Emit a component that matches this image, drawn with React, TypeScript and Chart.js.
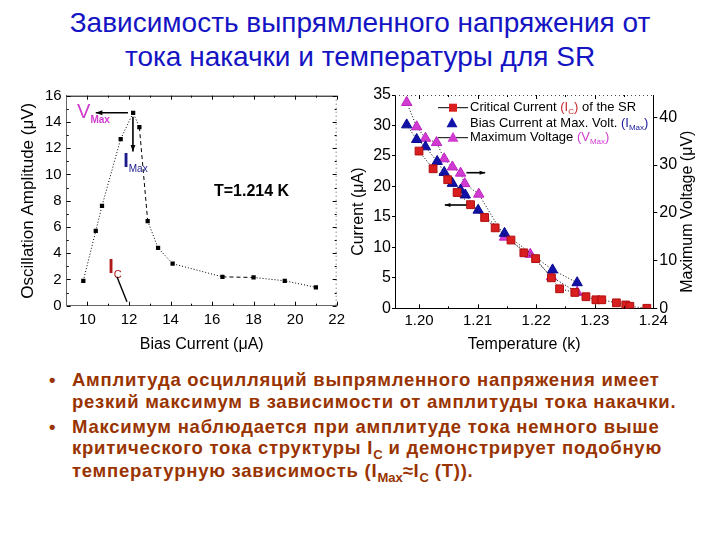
import React, { useEffect, useRef } from "react";
import { Chart, registerables } from "chart.js";

Chart.register(...registerables);

const FONT = "'Liberation Sans', Arial, Helvetica, sans-serif";

// ---------- Left chart data: oscillation amplitude vs bias current ----------
const biasCurrent = [9.8, 10.4, 10.7, 11.6, 12.2, 12.5, 12.9, 13.4, 14.1, 16.5, 18.0, 19.5, 21.0];
const amplitude = [1.9, 5.7, 7.6, 12.7, 14.7, 13.6, 6.45, 4.4, 3.2, 2.2, 2.15, 1.9, 1.4];
const biasTicks = [10, 12, 14, 16, 18, 20, 22];
const biasMinor = [11, 13, 15, 17, 19, 21];
const ampTicks = [0, 2, 4, 6, 8, 10, 12, 14, 16];
const ampMinor = [1, 3, 5, 7, 9, 11, 13, 15];
const dashedSegmentStarts = [5, 9];

// ---------- Right chart data: currents / voltage vs temperature ----------
const tempIc = [1.2, 1.2024, 1.2049, 1.2065, 1.2088, 1.2112, 1.213, 1.2157, 1.2179, 1.2199, 1.2226, 1.224, 1.2266, 1.2285, 1.2302, 1.2312, 1.2337, 1.2353, 1.236, 1.2389];
const criticalCurrent = [25.8, 22.9, 21.1, 19.0, 17.0, 14.9, 13.2, 11.2, 9.1, 8.15, 5.0, 3.2, 2.6, 1.9, 1.4, 1.4, 0.9, 0.55, 0.33, 0.0];
const tempImax = [1.1979, 1.1996, 1.2011, 1.2031, 1.2043, 1.2057, 1.2071, 1.2079, 1.2101, 1.2146, 1.2228, 1.227];
const biasAtMax = [30.1, 27.7, 26.5, 24.1, 22.3, 20.5, 19.4, 18.6, 16.1, 12.3, 6.3, 4.2];
const tempVmax = [1.1979, 1.1996, 1.2011, 1.203, 1.2043, 1.2057, 1.2071, 1.2078, 1.2102, 1.2146, 1.219, 1.2226, 1.227];
const maxVoltage = [43.1, 38.0, 35.6, 34.7, 31.3, 29.6, 28.3, 26.1, 23.9, 14.9, 11.3, 6.6, 3.35];
const tempTicks = [1.2, 1.21, 1.22, 1.23, 1.24];
const tempMinor = [1.205, 1.215, 1.225, 1.235];
const currentTicks = [0, 5, 10, 15, 20, 25, 30, 35];
const voltageTicks = [0, 10, 20, 30, 40];

const MAGENTA = "#d03cd0";
const BLUE = "#1212a8";
const RED = "#d81e1e";

function arrow(ctx: CanvasRenderingContext2D, x1: number, y1: number, x2: number, y2: number, head = 7, lw = 1.6) {
  ctx.save();
  ctx.strokeStyle = "#000";
  ctx.fillStyle = "#000";
  ctx.lineWidth = lw;
  ctx.setLineDash([]);
  ctx.beginPath();
  ctx.moveTo(x1, y1);
  ctx.lineTo(x2, y2);
  ctx.stroke();
  const a = Math.atan2(y2 - y1, x2 - x1);
  ctx.beginPath();
  ctx.moveTo(x2, y2);
  ctx.lineTo(x2 - head * Math.cos(a - 0.35), y2 - head * Math.sin(a - 0.35));
  ctx.lineTo(x2 - head * Math.cos(a + 0.35), y2 - head * Math.sin(a + 0.35));
  ctx.closePath();
  ctx.fill();
  ctx.restore();
}

function subText(ctx: CanvasRenderingContext2D, x: number, y: number, main: string, sub: string, color: string, mainFont: string, subFont: string, drop: number) {
  ctx.save();
  ctx.fillStyle = color;
  ctx.textAlign = "left";
  ctx.textBaseline = "alphabetic";
  ctx.font = mainFont;
  ctx.fillText(main, x, y);
  const w = ctx.measureText(main).width;
  ctx.font = subFont;
  ctx.fillText(sub, x + w, y + drop);
  ctx.restore();
}

function ticksAt(values: number[]) {
  return (scale: any) => {
    scale.ticks = values.map((v) => ({ value: v }));
  };
}

function LeftChart() {
  const ref = useRef<HTMLCanvasElement>(null);
  useEffect(() => {
    const decor = {
      id: "leftDecor",
      afterDraw(chart: any) {
        const { ctx, chartArea: a, scales } = chart;
        const xs = scales.x;
        const ys = scales.y;
        ctx.save();
        ctx.strokeStyle = "#000";
        ctx.lineWidth = 1;
        ctx.beginPath();
        ctx.moveTo(a.left, a.top + 0.5);
        ctx.lineTo(a.right, a.top + 0.5);
        ctx.stroke();
        ctx.setLineDash([1, 3]);
        ctx.strokeStyle = "#555";
        ctx.beginPath();
        ctx.moveTo(a.right - 0.5, a.top);
        ctx.lineTo(a.right - 0.5, a.bottom);
        ctx.stroke();
        ctx.setLineDash([]);
        ctx.strokeStyle = "#000";
        ctx.beginPath();
        [...biasTicks, ...biasMinor].forEach((v) => {
          const x = Math.round(xs.getPixelForValue(v)) + 0.5;
          const len = biasTicks.includes(v) ? 4 : 2;
          ctx.moveTo(x, a.top);
          ctx.lineTo(x, a.top + len);
          ctx.moveTo(x, a.bottom);
          ctx.lineTo(x, a.bottom - len);
        });
        [...ampTicks, ...ampMinor].forEach((v) => {
          const y = Math.round(ys.getPixelForValue(v)) + 0.5;
          const len = ampTicks.includes(v) ? 4 : 2;
          ctx.moveTo(a.left, y);
          ctx.lineTo(a.left + len, y);
          ctx.moveTo(a.right, y);
          ctx.lineTo(a.right - len, y);
        });
        ctx.stroke();

        const px = (v: number) => xs.getPixelForValue(v);
        const py = (v: number) => ys.getPixelForValue(v);
        arrow(ctx, px(11.95), py(14.7), px(10.4), py(14.7));
        arrow(ctx, px(12.19), py(14.4), px(12.19), py(11.75));
        subText(ctx, px(9.5), py(14.3), "V", "Max", MAGENTA, `20px ${FONT}`, `bold 10px ${FONT}`, 5);
        subText(ctx, px(11.72), py(10.57), "I", "Max", "#1c1c8c", `bold 20px ${FONT}`, `10px ${FONT}`, 5);
        subText(ctx, px(11.0), py(2.5), "I", "C", "#b01818", `bold 20px ${FONT}`, `11px ${FONT}`, 5);
        ctx.save();
        ctx.strokeStyle = "#000";
        ctx.lineWidth = 1.4;
        ctx.beginPath();
        ctx.moveTo(px(11.42), py(2.2));
        ctx.lineTo(px(11.9), py(0.3));
        ctx.stroke();
        ctx.restore();
        ctx.fillStyle = "#000";
        ctx.font = `bold 16px ${FONT}`;
        ctx.textAlign = "center";
        ctx.textBaseline = "middle";
        ctx.fillText("T=1.214 K", px(17.9), py(8.66));
        ctx.restore();
      },
    };

    const chart = new Chart(ref.current as HTMLCanvasElement, {
      type: "scatter",
      data: {
        datasets: [
          {
            data: biasCurrent.map((x, i) => ({ x, y: amplitude[i] })),
            showLine: true,
            borderColor: "#000",
            borderWidth: 1,
            borderDash: [1, 2],
            segment: {
              borderDash: (c: any) => (dashedSegmentStarts.includes(c.p0DataIndex) ? [4, 3] : [1, 2]),
            },
            pointStyle: "rect",
            pointRadius: 3,
            pointBackgroundColor: "#000",
            pointBorderColor: "#000",
            pointBorderWidth: 0,
          },
        ],
      },
      options: {
        animation: false,
        responsive: false,
        events: [],
        layout: { padding: { top: 15.7, right: 13, left: 0, bottom: 0 } },
        plugins: { legend: { display: false }, tooltip: { enabled: false } },
        scales: {
          x: {
            type: "linear",
            min: 9,
            max: 22,
            afterBuildTicks: ticksAt(biasTicks),
            afterFit: (s: any) => {
              s.height = 54.3;
            },
            grid: { drawOnChartArea: false, drawTicks: false },
            border: { display: true, color: "#666", dash: [1, 3] },
            ticks: { font: { family: FONT, size: 15 }, color: "#000", padding: 5, maxRotation: 0 },
            title: { display: true, text: "Bias Current (\u03bcA)", font: { family: FONT, size: 16 }, color: "#000", padding: { top: 0, bottom: 5.4 } },
          },
          y: {
            type: "linear",
            min: 0,
            max: 16,
            afterBuildTicks: ticksAt(ampTicks),
            afterFit: (s: any) => {
              s.width = 66.7;
            },
            grid: { drawOnChartArea: false, drawTicks: false },
            border: { display: true, color: "#666", dash: [1, 3] },
            ticks: { font: { family: FONT, size: 15 }, color: "#000", padding: 5 },
            title: { display: true, text: "Oscillation Amplitude (\u03bcV)", font: { family: FONT, size: 17 }, color: "#000", padding: { top: 17.8, bottom: 0 } },
          },
        },
      },
      plugins: [decor],
    } as any);
    return () => chart.destroy();
  }, []);
  return <canvas ref={ref} width={350} height={280} style={{ position: "absolute", left: 0, top: 80, width: 350, height: 280 }} />;
}

function RightChart() {
  const ref = useRef<HTMLCanvasElement>(null);
  useEffect(() => {
    const decor = {
      id: "rightDecor",
      afterDraw(chart: any) {
        const { ctx, chartArea: a, scales } = chart;
        const xs = scales.x;
        const ys = scales.y;
        ctx.save();
        ctx.strokeStyle = "#444";
        ctx.lineWidth = 1;
        ctx.setLineDash([1, 3]);
        ctx.beginPath();
        ctx.moveTo(a.left, a.top + 0.5);
        ctx.lineTo(a.right, a.top + 0.5);
        ctx.stroke();
        ctx.setLineDash([]);
        ctx.strokeStyle = "#000";
        ctx.beginPath();
        [...tempTicks, ...tempMinor].forEach((v) => {
          const x = Math.round(xs.getPixelForValue(v)) + 0.5;
          const len = tempTicks.includes(v) ? 4 : 2;
          ctx.moveTo(x, a.top);
          ctx.lineTo(x, a.top + len);
          ctx.moveTo(x, a.bottom);
          ctx.lineTo(x, a.bottom - len);
        });
        ctx.stroke();

        const px = (v: number) => xs.getPixelForValue(v);
        const py = (v: number) => ys.getPixelForValue(v);
        arrow(ctx, px(1.2081), py(22.25), px(1.2113), py(22.25), 6, 1.6);
        arrow(ctx, px(1.2081), py(16.95), px(1.2044), py(16.95), 6, 1.6);

        ctx.fillStyle = "#000";
        ctx.font = `16px ${FONT}`;
        ctx.textAlign = "center";
        ctx.textBaseline = "middle";
        ctx.save();
        ctx.translate(a.left - 36, 131.7);
        ctx.rotate(-Math.PI / 2);
        ctx.fillText("Current (\u03bcA)", 0, 0);
        ctx.restore();
        ctx.save();
        ctx.translate(a.right + 34, 131.7);
        ctx.rotate(-Math.PI / 2);
        ctx.fillText("Maximum Voltage (\u03bcV)", 0, 0);
        ctx.restore();

        const lx = a.left + 43;
        const tx = a.left + 75;
        const rows = [a.top + 12.7, a.top + 28.3, a.top + 42.7];
        const tf = `13px ${FONT}`;
        const sf = `8px ${FONT}`;
        ctx.textAlign = "left";
        ctx.textBaseline = "middle";
        ctx.strokeStyle = "#000";
        ctx.lineWidth = 1;
        ctx.beginPath();
        ctx.moveTo(lx, rows[0]);
        ctx.lineTo(lx + 30, rows[0]);
        ctx.moveTo(lx, rows[2]);
        ctx.lineTo(lx + 30, rows[2]);
        ctx.stroke();
        ctx.fillStyle = RED;
        ctx.fillRect(lx + 11, rows[0] - 4, 8, 8);
        const tri = (cx: number, cy: number, fill: string) => {
          ctx.fillStyle = fill;
          ctx.beginPath();
          ctx.moveTo(cx, cy - 6);
          ctx.lineTo(cx + 5.5, cy + 4);
          ctx.lineTo(cx - 5.5, cy + 4);
          ctx.closePath();
          ctx.fill();
        };
        tri(lx + 14, rows[1], BLUE);
        tri(lx + 15, rows[2], MAGENTA);
        const seq = (x: number, y: number, parts: [string, string, boolean][]) => {
          let cx = x;
          parts.forEach(([t, col, isSub]) => {
            ctx.fillStyle = col;
            ctx.font = isSub ? sf : tf;
            ctx.fillText(t, cx, isSub ? y + 4 : y);
            cx += ctx.measureText(t).width;
          });
        };
        seq(tx, rows[0], [["Critical Current ", "#000", false], ["(I", "#c82828", false], ["C", "#c82828", true], [")", "#c82828", false], [" of the SR", "#000", false]]);
        seq(tx, rows[1], [["Bias Current at Max. Volt. ", "#000", false], ["(I", "#1a1a9a", false], ["Max", "#1a1a9a", true], [")", "#1a1a9a", false]]);
        seq(tx, rows[2], [["Maximum Voltage ", "#000", false], ["(V", MAGENTA, false], ["Max", MAGENTA, true], [")", MAGENTA, false]]);
        ctx.restore();
      },
    };

    const lineBase = {
      showLine: true,
      borderColor: "#000",
      borderWidth: 1,
      borderDash: [1, 2],
      pointBorderWidth: 1,
    };

    const chart = new Chart(ref.current as HTMLCanvasElement, {
      type: "scatter",
      data: {
        datasets: [
          {
            ...lineBase,
            data: tempVmax.map((x, i) => ({ x, y: maxVoltage[i] })),
            yAxisID: "y2",
            pointStyle: "triangle",
            pointRadius: 6,
            pointBackgroundColor: MAGENTA,
            pointBorderColor: "#c020c0",
            order: 3,
          },
          {
            ...lineBase,
            data: tempImax.map((x, i) => ({ x, y: biasAtMax[i] })),
            yAxisID: "y",
            pointStyle: "triangle",
            pointRadius: 6,
            pointBackgroundColor: BLUE,
            pointBorderColor: "#0a0a90",
            order: 2,
          },
          {
            ...lineBase,
            data: tempIc.map((x, i) => ({ x, y: criticalCurrent[i] })),
            yAxisID: "y",
            pointStyle: "rect",
            pointRadius: 5.5,
            pointBackgroundColor: RED,
            pointBorderColor: "#b01010",
            order: 1,
          },
        ],
      },
      options: {
        animation: false,
        responsive: false,
        events: [],
        layout: { padding: { top: 15, right: 0, left: 0, bottom: 0 } },
        plugins: { legend: { display: false }, tooltip: { enabled: false } },
        scales: {
          x: {
            type: "linear",
            min: 1.1959,
            max: 1.24,
            afterBuildTicks: ticksAt(tempTicks),
            afterFit: (s: any) => {
              s.height = 51.7;
            },
            grid: { drawOnChartArea: false, drawTicks: false },
            border: { display: true, color: "#000" },
            ticks: { font: { family: FONT, size: 15 }, color: "#000", padding: 4, maxRotation: 0, callback: (v: any) => Number(v).toFixed(2) },
            title: { display: true, text: "Temperature (k)", font: { family: FONT, size: 16 }, color: "#000", padding: { top: 0, bottom: 5.4 } },
          },
          y: {
            type: "linear",
            position: "left",
            min: 0,
            max: 35,
            afterBuildTicks: ticksAt(currentTicks),
            afterFit: (s: any) => {
              s.width = 55;
            },
            grid: { drawOnChartArea: false, drawTicks: true, tickLength: 3, color: "#000" },
            border: { display: true, color: "#000" },
            ticks: { font: { family: FONT, size: 16 }, color: "#000", padding: 1 },
          },
          y2: {
            type: "linear",
            position: "right",
            min: 0,
            max: 44.66,
            afterBuildTicks: ticksAt(voltageTicks),
            afterFit: (s: any) => {
              s.width = 66.7;
            },
            grid: { drawOnChartArea: false, drawTicks: true, tickLength: 4, color: "#000" },
            border: { display: true, color: "#000" },
            ticks: { font: { family: FONT, size: 16 }, color: "#000", padding: 2 },
          },
        },
      },
      plugins: [decor],
    } as any);
    return () => chart.destroy();
  }, []);
  return <canvas ref={ref} width={380} height={280} style={{ position: "absolute", left: 340, top: 80, width: 380, height: 280 }} />;
}

const sub: React.CSSProperties = { fontSize: 13, position: "relative", top: 5, letterSpacing: 0 };

export default function App() {
  return (
    <div style={{ position: "fixed", left: 0, top: 0, width: 720, height: 540, background: "#fff", overflow: "hidden", fontFamily: FONT }}>
      <div style={{ position: "absolute", left: 0, top: 6, width: 720, textAlign: "center", fontSize: 28, lineHeight: "34px", color: "#1414c4", whiteSpace: "nowrap" }}>
        Зависимость выпрямленного напряжения от
        <br />
        тока накачки и температуры для SR
      </div>
      <LeftChart />
      <RightChart />
      <div style={{ position: "absolute", left: 0, top: 369, width: 720, color: "#993300", fontWeight: "bold", fontSize: 18.5, letterSpacing: "0.75px", lineHeight: "22px", whiteSpace: "nowrap" }}>
        <div style={{ position: "relative", paddingLeft: 72 }}>
          <span style={{ position: "absolute", left: 49, top: 0 }}>•</span>
          Амплитуда осцилляций выпрямленного напряжения имеет
          <br />
          резкий максимум в зависимости от амплитуды тока накачки.
        </div>
        <div style={{ position: "relative", paddingLeft: 72, marginTop: 3, lineHeight: "21px" }}>
          <span style={{ position: "absolute", left: 49, top: 0 }}>•</span>
          Максимум наблюдается при амплитуде тока немного выше
          <br />
          критического тока структуры I<span style={sub}>C</span> и демонстрирует подобную
          <br />
          температурную зависимость (I<span style={sub}>Max</span>≈I<span style={sub}>C</span> (T)).
        </div>
      </div>
    </div>
  );
}
